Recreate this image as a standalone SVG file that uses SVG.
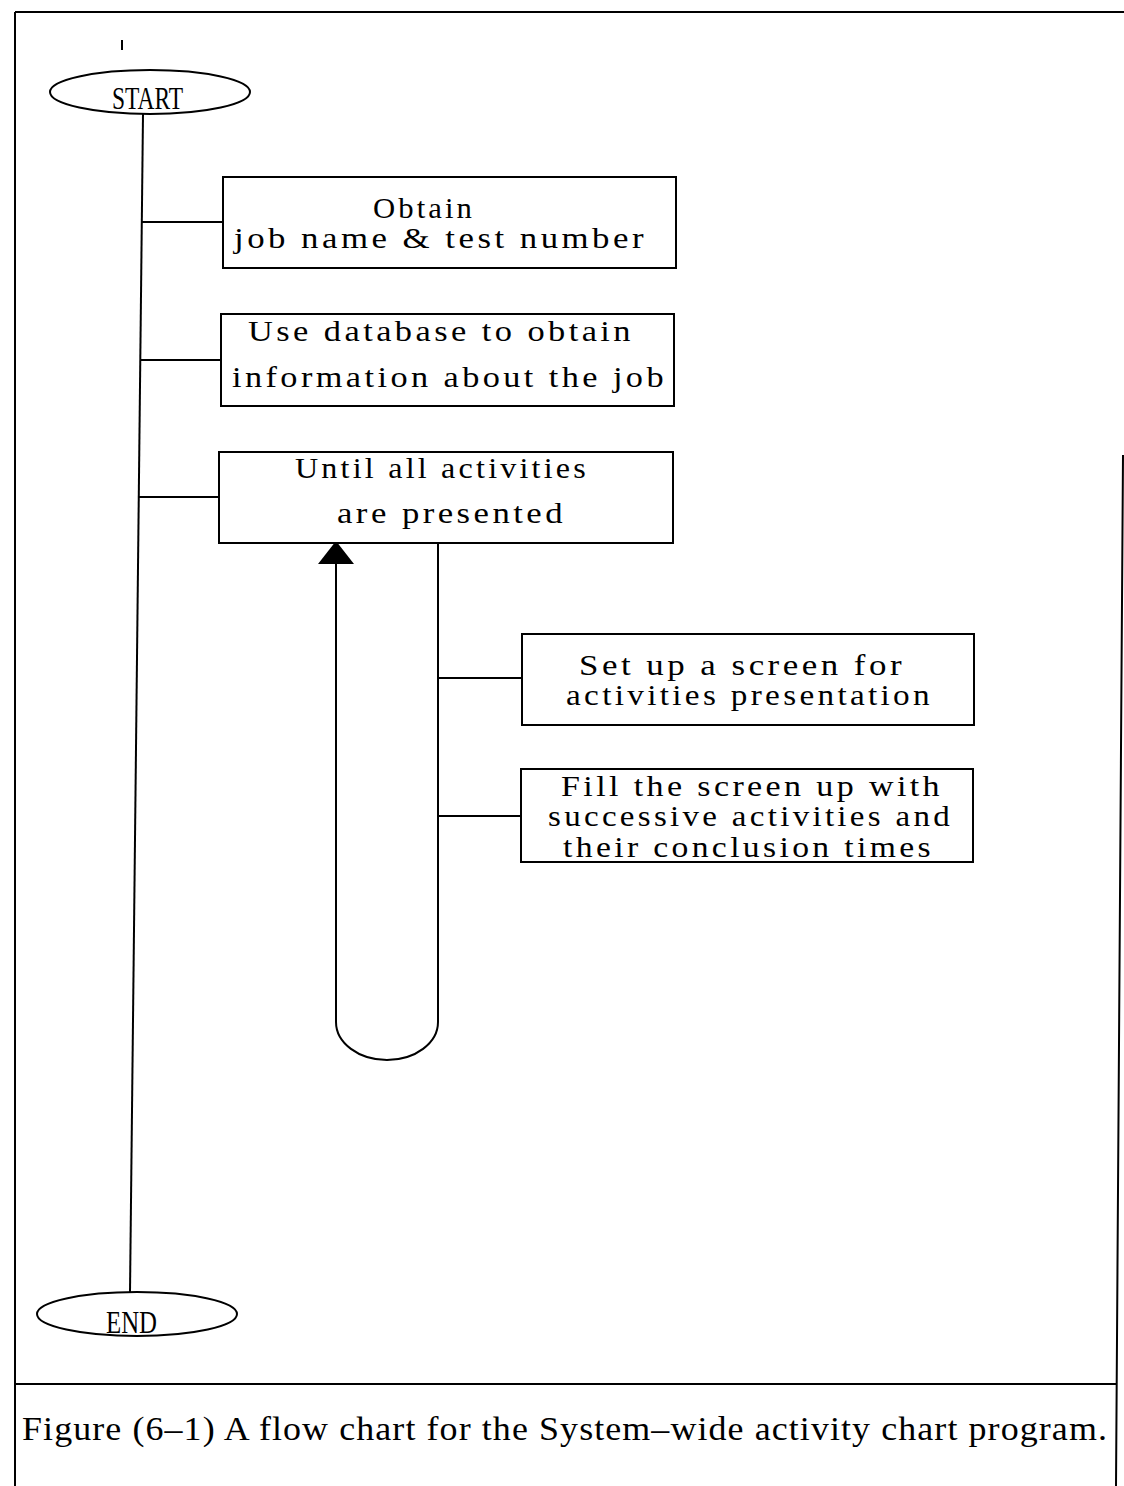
<svg xmlns="http://www.w3.org/2000/svg" width="1124" height="1486" viewBox="0 0 1124 1486">
<style>
.ln{fill:none;stroke:#000;stroke-width:2}
.box{fill:#fff;stroke:#000;stroke-width:2}
.lbl{font-family:"Liberation Serif","DejaVu Serif",serif;font-size:30px;letter-spacing:3px;fill:#000}
.term{font-family:"Liberation Serif","DejaVu Serif",serif;font-size:32px;fill:#000}
.cap{font-family:"Liberation Serif","DejaVu Serif",serif;font-size:33px;letter-spacing:1px;fill:#000}
</style>
<defs>
<marker id="ah" viewBox="0 0 23 36" refX="23" refY="18" markerWidth="23" markerHeight="36" markerUnits="userSpaceOnUse" orient="auto">
<path d="M0,0 L23,18 L0,36 z" fill="#000"/>
</marker>
</defs>
<rect width="1124" height="1486" fill="#fff"/>
<g id="frame">
<path class="ln" d="M15,12 L1124,12 M15,12 L15,1486 M15,1384 L1117,1384 M1123,455 L1116,1486"/>
<path class="ln" d="M122,40 L122,50"/>
</g>
<g id="connectors">
<path class="ln" d="M143,114 L130,1292"/>
<path class="ln" d="M142,222 L223,222"/>
<path class="ln" d="M141,360 L221,360"/>
<path class="ln" d="M139,497 L219,497"/>
<path class="ln" d="M438,678 L522,678"/>
<path class="ln" d="M438,816 L521,816"/>
<path class="ln" d="M438,543 L438,1022 A51,38 0 0 1 336,1022 L336,541" marker-end="url(#ah)"/>
</g>
<g id="start">
<ellipse class="box" cx="150" cy="92" rx="100" ry="22"/>
<text class="term" x="112" y="109" textLength="71" lengthAdjust="spacingAndGlyphs">START</text>
</g>
<g id="obtain">
<rect class="box" x="223" y="177" width="453" height="91"/>
<text class="lbl" x="373" y="218" textLength="102" lengthAdjust="spacingAndGlyphs">Obtain</text>
<text class="lbl" x="234" y="248" textLength="413" lengthAdjust="spacingAndGlyphs">job name &amp; test number</text>
</g>
<g id="database">
<rect class="box" x="221" y="314" width="453" height="92"/>
<text class="lbl" x="248" y="341" textLength="386" lengthAdjust="spacingAndGlyphs">Use database to obtain</text>
<text class="lbl" x="232" y="387" textLength="435" lengthAdjust="spacingAndGlyphs">information about the job</text>
</g>
<g id="until">
<rect class="box" x="219" y="452" width="454" height="91"/>
<text class="lbl" x="295" y="478" textLength="294" lengthAdjust="spacingAndGlyphs">Until all activities</text>
<text class="lbl" x="337" y="523" textLength="229" lengthAdjust="spacingAndGlyphs">are presented</text>
</g>
<g id="setup">
<rect class="box" x="522" y="634" width="452" height="91"/>
<text class="lbl" x="579" y="675" textLength="326" lengthAdjust="spacingAndGlyphs">Set up a screen for</text>
<text class="lbl" x="566" y="705" textLength="367" lengthAdjust="spacingAndGlyphs">activities presentation</text>
</g>
<g id="fill">
<rect class="box" x="521" y="769" width="452" height="93"/>
<text class="lbl" x="561" y="796" textLength="382" lengthAdjust="spacingAndGlyphs">Fill the screen up with</text>
<text class="lbl" x="548" y="826" textLength="405" lengthAdjust="spacingAndGlyphs">successive activities and</text>
<text class="lbl" x="563" y="857" textLength="371" lengthAdjust="spacingAndGlyphs">their conclusion times</text>
</g>
<g id="end">
<ellipse class="box" cx="137" cy="1314" rx="100" ry="22"/>
<text class="term" x="106" y="1333" textLength="51" lengthAdjust="spacingAndGlyphs">END</text>
</g>
<g id="caption">
<text class="cap" x="22" y="1440" textLength="1086" lengthAdjust="spacingAndGlyphs">Figure (6–1) A flow chart for the System–wide activity chart program.</text>
</g>
</svg>
